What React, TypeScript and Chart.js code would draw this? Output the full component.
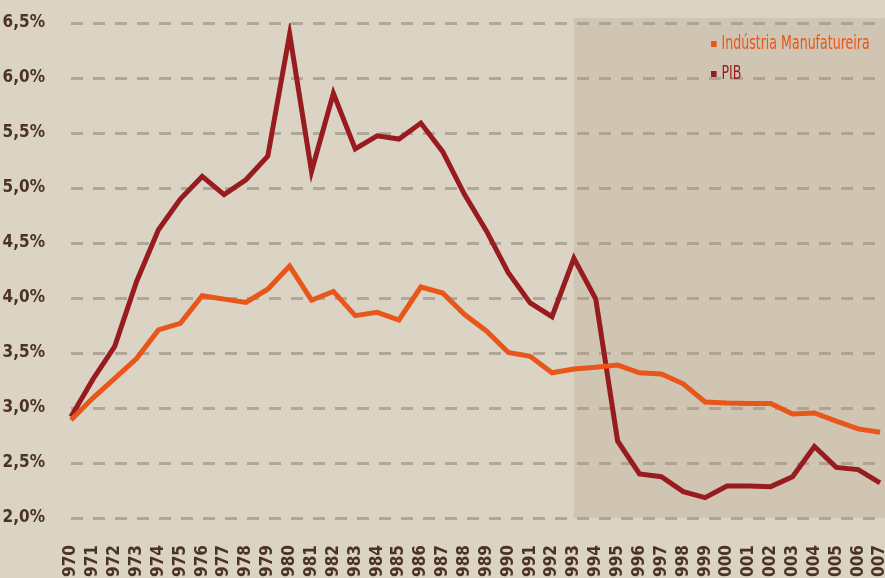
import React, { useEffect, useRef } from "react";
import { Chart, registerables } from "chart.js";

Chart.register(...registerables);

const years = [
  "1970", "1971", "1972", "1973", "1974", "1975", "1976", "1977", "1978", "1979",
  "1980", "1981", "1982", "1983", "1984", "1985", "1986", "1987", "1988", "1989",
  "1990", "1991", "1992", "1993", "1994", "1995", "1996", "1997", "1998", "1999",
  "2000", "2001", "2002", "2003", "2004", "2005", "2006", "2007",
];

const industriaManufatureira = [
  2.89, 3.09, 3.27, 3.45, 3.71, 3.77, 4.02, 3.99, 3.96, 4.08,
  4.29, 3.98, 4.06, 3.84, 3.87, 3.8, 4.1, 4.045, 3.85, 3.7,
  3.505, 3.47, 3.32, 3.355, 3.37, 3.39, 3.32, 3.31, 3.22, 3.055,
  3.045, 3.04, 3.04, 2.945, 2.955, 2.88, 2.81, 2.78,
];

const pib = [
  2.92, 3.26, 3.56, 4.15, 4.62, 4.9, 5.105, 4.94, 5.075, 5.29,
  6.4, 5.15, 5.86, 5.355, 5.475, 5.445, 5.59, 5.33, 4.94, 4.61,
  4.23, 3.955, 3.83, 4.36, 3.99, 2.7, 2.4, 2.375, 2.24, 2.185,
  2.29, 2.29, 2.285, 2.375, 2.65, 2.46, 2.44, 2.32,
];

const yTicks = [2.0, 2.5, 3.0, 3.5, 4.0, 4.5, 5.0, 5.5, 6.0, 6.5];
const shadeFromYear = "1993";

const seriesNames = ["Indústria Manufatureira", "PIB"];
const seriesColors = ["#e8561a", "#981b1f"];

const FONT = "'DejaVu Sans Condensed', 'Liberation Sans Narrow', 'Roboto', sans-serif";
const TEXT = "#4b3226";

const shadePlugin = {
  id: "shade",
  beforeDatasetsDraw(chart: any) {
    const { ctx, chartArea, scales } = chart;
    const x0 = scales.x.getPixelForValue(years.indexOf(shadeFromYear));
    const yBottom = scales.y.getPixelForValue(yTicks[0]);
    ctx.save();
    ctx.fillStyle = "rgba(170, 145, 115, 0.22)";
    ctx.fillRect(x0, chartArea.top - 5, chart.width - x0, yBottom - chartArea.top + 5);
    ctx.restore();
  },
};

export default function App() {
  const ref = useRef<HTMLCanvasElement | null>(null);

  useEffect(() => {
    if (!ref.current) return;
    const chart = new Chart(ref.current, {
      type: "line",
      data: {
        labels: years,
        datasets: [
          {
            label: seriesNames[0],
            data: industriaManufatureira,
            borderColor: seriesColors[0],
            backgroundColor: seriesColors[0],
            borderWidth: 5,
            pointRadius: 0,
            tension: 0,
          },
          {
            label: seriesNames[1],
            data: pib,
            borderColor: seriesColors[1],
            backgroundColor: seriesColors[1],
            borderWidth: 5,
            pointRadius: 0,
            tension: 0,
          },
        ],
      },
      options: {
        responsive: false,
        animation: false,
        layout: { padding: { top: 23, right: 5, left: 0, bottom: 0 } },
        plugins: {
          legend: { display: false },
          tooltip: { enabled: false },
        },
        scales: {
          x: {
            type: "category",
            offset: false,
            grid: { display: false, drawTicks: false },
            border: { display: false },
            ticks: {
              autoSkip: false,
              maxRotation: 90,
              minRotation: 90,
              padding: 27,
              color: TEXT,
              font: { family: FONT, size: 17, weight: "bold" },
            },
            afterFit(scale: any) {
              scale.height = 60;
              scale.paddingLeft = 0;
              scale.paddingRight = 0;
            },
          },
          y: {
            min: 2,
            max: 6.5,
            grid: {
              color: "rgba(120, 108, 92, 0.42)",
              lineWidth: 3,
              drawTicks: false,
            },
            border: { display: false, dash: [12, 10] },
            afterBuildTicks(scale: any) {
              scale.ticks = yTicks.map((v) => ({ value: v }));
            },
            ticks: {
              padding: 26,
              color: TEXT,
              font: { family: FONT, size: 17, weight: "bold" },
              callback: (v: any) => Number(v).toFixed(1).replace(".", ",") + "%",
            },
            afterFit(scale: any) {
              scale.width = 71;
              scale.paddingTop = 0;
              scale.paddingBottom = 0;
            },
          },
        },
      },
      plugins: [shadePlugin],
    } as any);
    return () => chart.destroy();
  }, []);

  return (
    <div
      style={{
        position: "fixed",
        left: 0,
        top: 0,
        width: 885,
        height: 578,
        background: "#dbd3c4",
        overflow: "hidden",
      }}
    >
      <canvas ref={ref} width={885} height={578} style={{ display: "block" }} />
      {seriesNames.map((name, i) => (
        <div
          key={name}
          style={{
            position: "absolute",
            left: 711,
            top: 31 + i * 30,
            display: "flex",
            alignItems: "center",
            fontFamily: FONT,
            fontSize: 20,
            color: seriesColors[i],
            lineHeight: "22px",
            whiteSpace: "nowrap",
            transform: "scaleX(0.7)",
            transformOrigin: "left center",
          }}
        >
          <span
            style={{
              display: "inline-block",
              width: 8,
              height: 6,
              background: seriesColors[i],
              marginRight: 7,
              marginTop: 4,
            }}
          />
          {name}
        </div>
      ))}
    </div>
  );
}
